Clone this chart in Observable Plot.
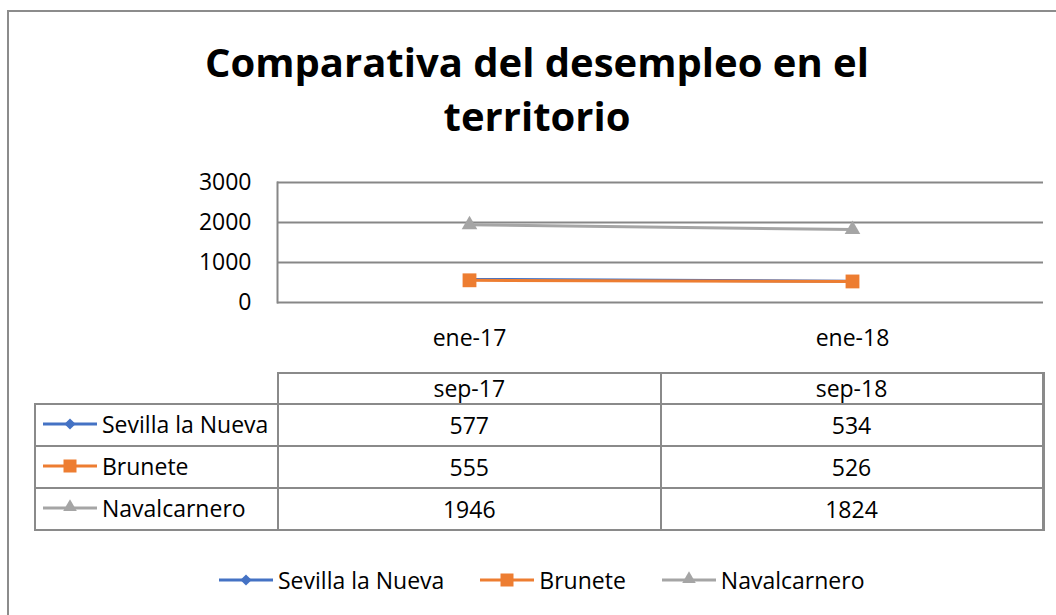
<!DOCTYPE html>
<html>
<head>
<meta charset="utf-8">
<script src="https://cdn.jsdelivr.net/npm/d3@7"></script>
<script src="https://cdn.jsdelivr.net/npm/@observablehq/plot@0.6"></script>
<style>
  body { margin: 0; background: #fff; }
  #wrap { position: relative; width: 1056px; height: 615px; overflow: hidden; font-family: "Open Sans", sans-serif; color: #000; }
  #frame { position: absolute; left: 7px; top: 10px; width: 1200px; height: 800px; border-left: 2px solid #8c8c8c; border-top: 2px solid #8c8c8c; }
  #titleSvg { position: absolute; left: 0; top: 0; }
  #chart { position: absolute; left: 0; top: 0; }
  #table { position: absolute; left: 34px; top: 372px; border-collapse: collapse; table-layout: fixed; font-size: 23px; line-height: 1; }
  #table td { border: 2px solid #8a8a8a; padding: 0; text-align: center; vertical-align: middle; white-space: nowrap; box-sizing: border-box; }
  #table td.blank { border: none; }
  #table td.key { text-align: left; padding-left: 7px; }
  #table td.last { border-right: 3px solid #8a8a8a; }
  #table tr.head td { height: 31px; }
  #table tr.row td { height: 42px; }
  .keywrap { display: inline-flex; align-items: center; }
  .keywrap svg { margin-right: 5px; }
  #legend { position: absolute; left: 219px; top: 564px; height: 32px; display: flex; align-items: center; font-size: 23px; }
  #legend .item { display: flex; align-items: center; margin-right: 36px; }
  #legend .item svg { margin-right: 5px; }
</style>
</head>
<body>
<div id="wrap">
  <div id="frame"></div>
  <svg id="titleSvg" width="1056" height="150"></svg>
  <div id="chart"></div>
  <table id="table"></table>
  <div id="legend"></div>
</div>
<script>
// ---- data ----
const titleLines = ["Comparativa del desempleo en el", "territorio"];
const series = ["Sevilla la Nueva", "Brunete", "Navalcarnero"];
const periods = ["ene-17", "ene-18"];
const tableHeaders = ["sep-17", "sep-18"];
const sevillaValues = [577, 534];
const bruneteValues = [555, 526];
const navalcarneroValues = [1946, 1824];
const yTicks = [0, 1000, 2000, 3000];
const colors = ["#4472C4", "#ED7D31", "#A5A5A5"];
const symbols = ["diamond2", "square", "triangle"];

const seriesValues = [sevillaValues, bruneteValues, navalcarneroValues];
const data = [];
series.forEach((s, i) => periods.forEach((p, j) => data.push({series: s, period: p, value: seriesValues[i][j]})));

// ---- title ----
const tsvg = d3.select("#titleSvg");
const baselines = [77, 131];
titleLines.forEach((t, i) => {
  tsvg.append("text")
    .attr("x", 537).attr("y", baselines[i])
    .attr("text-anchor", "middle")
    .attr("font-family", "'Open Sans', sans-serif")
    .attr("font-weight", "bold")
    .attr("font-size", 40)
    .attr("fill", "#000")
    .text(t);
});

// ---- chart ----
const symR = {diamond2: 4.5, square: 7.8, triangle: 5.8};
const marks = [
  Plot.gridY({ticks: yTicks, stroke: "#878787", strokeOpacity: 1, strokeWidth: 2}),
  Plot.frame({anchor: "left", stroke: "#878787", strokeWidth: 2}),
  Plot.axisY({ticks: yTicks, tickSize: 0, tickPadding: 26, label: null, tickFormat: d => String(d)}),
  Plot.axisX({tickSize: 0, tickPadding: 27, label: null})
];
series.forEach((s, i) => {
  const sub = data.filter(d => d.series === s);
  marks.push(Plot.line(sub, {x: "period", y: "value", stroke: "series", strokeWidth: 3}));
  marks.push(Plot.dot(sub, {x: "period", y: "value", fill: "series", symbol: "series", r: symR[symbols[i]], stroke: "none"}));
});

const chart = Plot.plot({
  width: 1056,
  height: 360,
  marginLeft: 277,
  marginRight: 13,
  marginTop: 182,
  marginBottom: 58,
  style: {fontFamily: "'Open Sans', sans-serif", fontSize: "23px", color: "#000", background: "transparent", overflow: "visible"},
  x: {type: "point", domain: periods, padding: 0.5, label: null},
  y: {domain: [0, 3000], label: null},
  color: {domain: series, range: colors},
  symbol: {domain: series, range: symbols},
  marks
});
document.getElementById("chart").appendChild(chart);

// ---- key glyph helper ----
const d3sym = {diamond2: d3.symbolDiamond2, square: d3.symbolSquare, triangle: d3.symbolTriangle};
const symSize = {diamond2: 80, square: 169, triangle: 80};
function keySvg(i) {
  const ns = "http://www.w3.org/2000/svg";
  const svg = document.createElementNS(ns, "svg");
  svg.setAttribute("width", 54);
  svg.setAttribute("height", 20);
  const line = document.createElementNS(ns, "line");
  line.setAttribute("x1", 0); line.setAttribute("x2", 54);
  line.setAttribute("y1", 10); line.setAttribute("y2", 10);
  line.setAttribute("stroke", colors[i]); line.setAttribute("stroke-width", 3);
  svg.appendChild(line);
  const path = document.createElementNS(ns, "path");
  path.setAttribute("d", d3.symbol().type(d3sym[symbols[i]]).size(symSize[symbols[i]])());
  path.setAttribute("transform", symbols[i] === "triangle" ? "translate(27,9)" : "translate(27,10)");
  path.setAttribute("fill", colors[i]);
  svg.appendChild(path);
  return svg;
}

// ---- data table ----
const table = d3.select("#table");
const cg = table.append("colgroup");
cg.append("col").style("width", "243px");
tableHeaders.forEach(() => cg.append("col").style("width", "382.5px"));
const hr = table.append("tr").attr("class", "head");
hr.append("td").attr("class", "blank");
tableHeaders.forEach((h, j) => hr.append("td").attr("class", j === tableHeaders.length - 1 ? "last" : null).text(h));
series.forEach((s, i) => {
  const tr = table.append("tr").attr("class", "row");
  const kc = tr.append("td").attr("class", "key");
  const kw = kc.append("span").attr("class", "keywrap");
  kw.node().appendChild(keySvg(i));
  kw.append("span").text(s);
  seriesValues[i].forEach((v, j) => tr.append("td").attr("class", j === seriesValues[i].length - 1 ? "last" : null).text(v));
});

// ---- legend ----
const legend = d3.select("#legend");
series.forEach((s, i) => {
  const it = legend.append("div").attr("class", "item");
  it.node().appendChild(keySvg(i));
  it.append("span").text(s);
});
</script>
</body>
</html>
